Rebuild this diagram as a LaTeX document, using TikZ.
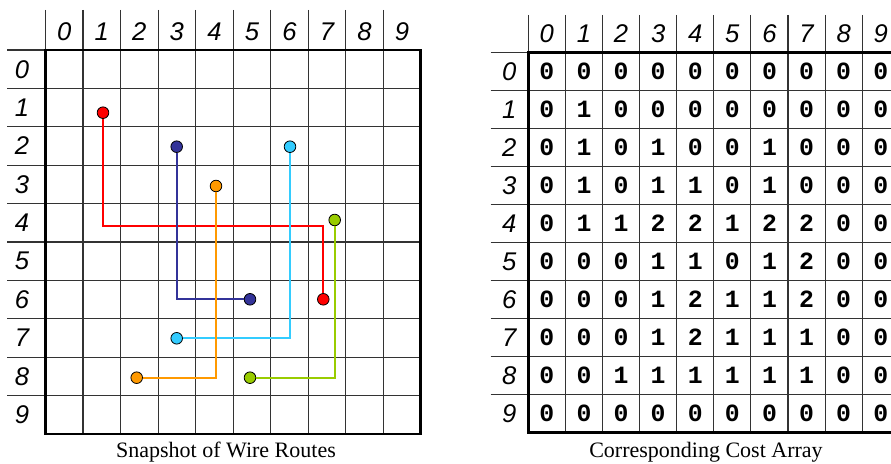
\documentclass[tikz,border=0pt]{standalone}
\usepackage{fontspec}
\setmainfont{Liberation Serif}
\newfontfamily\labelfont{Liberation Sans}
\newfontfamily\costfont{Liberation Mono}
\usepackage{tikz}
\usetikzlibrary{positioning}

\definecolor{wirered}{HTML}{FF0000}
\definecolor{wireblue}{HTML}{333399}
\definecolor{wirecyan}{HTML}{33CCFF}
\definecolor{wireorange}{HTML}{FF9900}
\definecolor{wiregreen}{HTML}{99CC00}

\begin{document}
\begin{tikzpicture}[
    x=0.5pt, y=-0.5pt,
    gridline/.style={draw=black!80, line width=0.55pt},
    border/.style={draw=black, line width=1.4pt},
    wire/.style={line width=1.1pt},
    pin/.style={circle, draw=black, line width=0.4pt, inner sep=0pt, minimum size=5.8pt},
    idx/.style={font=\labelfont\itshape\fontsize{12.8}{14}\selectfont},
    cost/.style={font=\costfont\bfseries\fontsize{12.4}{14}\selectfont},
    caption/.style={font=\fontsize{11}{13}\selectfont}
]
\useasboundingbox (0,0) rectangle (891,464);

% wire routes grid
\foreach \i in {0,...,9} {
  \draw[gridline] ({45.5+37.52*\i},10) -- ({45.5+37.52*\i},434);
  \draw[gridline] (7,{50+38.4*\i}) -- (420.7,{50+38.4*\i});
  \node[idx] (wcol\i) at ({64.3+37.52*\i},32) {\i};
  \node[idx] (wrow\i) at (22,{69.2+38.4*\i}) {\i};
}
\draw[border] (45.5,50) rectangle (420.7,434);

% pins
\node[pin, fill=wirered] (red1) at (103,112.7) {};
\node[pin, fill=wirered] (red2) at (323.3,299.3) {};
\node[pin, fill=wireblue] (blue1) at (176.7,146.7) {};
\node[pin, fill=wireblue] (blue2) at (250,299.3) {};
\node[pin, fill=wirecyan] (cyan1) at (290,146.7) {};
\node[pin, fill=wirecyan] (cyan2) at (176.7,338.3) {};
\node[pin, fill=wireorange] (orange1) at (216,186) {};
\node[pin, fill=wireorange] (orange2) at (136.7,377.7) {};
\node[pin, fill=wiregreen] (green1) at (334.7,220) {};
\node[pin, fill=wiregreen] (green2) at (250,377.7) {};
\coordinate (redbend) at (323.3,225.7);

% routes
\draw[wire, wirered] (red1) |- (redbend) -- (red2);
\draw[wire, wireblue] (blue1) |- (blue2);
\draw[wire, wirecyan] (cyan1) |- (cyan2);
\draw[wire, wireorange] (orange1) |- (orange2);
\draw[wire, wiregreen] (green1) |- (green2);

\node[caption] (wirecap) at (226,452) {Snapshot of Wire Routes};

% cost array grid
\foreach \i in {0,...,9} {
  \draw[gridline] ({528.3+37.1*\i},15) -- ({528.3+37.1*\i},432.7);
  \draw[gridline] (490.7,{52.7+38*\i}) -- (900,{52.7+38*\i});
  \node[idx] (ccol\i) at ({546.85+37.1*\i},34) {\i};
  \node[idx] (crow\i) at (509.3,{71.7+38*\i}) {\i};
}
\draw[border] (528.3,52.7) rectangle (899.3,432.7);

\foreach \vals [count=\r from 0] in {
    {0,0,0,0,0,0,0,0,0,0},
    {0,1,0,0,0,0,0,0,0,0},
    {0,1,0,1,0,0,1,0,0,0},
    {0,1,0,1,1,0,1,0,0,0},
    {0,1,1,2,2,1,2,2,0,0},
    {0,0,0,1,1,0,1,2,0,0},
    {0,0,0,1,2,1,1,2,0,0},
    {0,0,0,1,2,1,1,1,0,0},
    {0,0,1,1,1,1,1,1,0,0},
    {0,0,0,0,0,0,0,0,0,0}} {
  \foreach \v [count=\c from 0] in \vals
    \node[cost] (cost\r\c) at ({546.85+37.1*\c},{71.7+38*\r}) {\v};
}

\node[caption] (costcap) at (706,452) {Corresponding Cost Array};
\end{tikzpicture}
\end{document}
